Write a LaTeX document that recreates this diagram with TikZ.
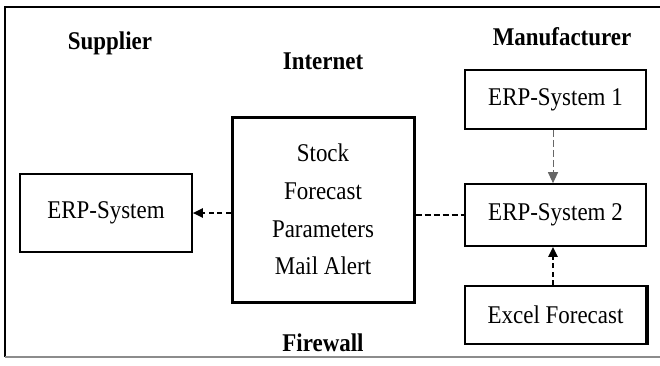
\documentclass[tikz,border=0pt]{standalone}
\usepackage{fontspec}
\setmainfont{Liberation Serif}[FakeStretch=0.9]
\usetikzlibrary{arrows.meta}
\tikzset{
  sysbox/.style={draw, line width=1.6pt, inner sep=0pt,
    font=\fontsize{25.5}{28}\selectfont},
  hubbox/.style={draw, line width=3pt, inner sep=0pt, align=center,
    font=\fontsize{25.5}{37.7}\selectfont},
  region/.style={font=\bfseries\fontsize{25.5}{28}\selectfont},
  tip/.style={-{Triangle[length=10pt,width=9pt]}},
  link/.style={line width=2pt, dash pattern=on 5pt off 3.5pt},
  thinlink/.style={line width=1pt, draw=black!60, dash pattern=on 7pt off 3pt},
}
\begin{document}
\begin{tikzpicture}[x=1pt,y=-1pt]
  \useasboundingbox (0,0) rectangle (660,365);

  % open frame
  \draw[line width=1.5pt] (660,7) -- (5,7) -- (5,357);
  \draw[line width=1.5pt, black!45] (5,357) -- (660,357);

  % region labels
  \node[region] (supl) at (110,43) {Supplier};
  \node[region] (inet) at (323,61) {Internet};
  \node[region] (manl) at (562,37) {Manufacturer};
  \node[region] (fwl)  at (323,343) {Firewall};

  % boxes
  \node[sysbox, minimum width=172pt, minimum height=78pt] (sup) at (106,213) {ERP-System};
  \node[hubbox, minimum width=182pt, minimum height=185pt] (hub) at (323,209.5)
    {Stock\\Forecast\\Parameters\\Mail Alert};
  \node[sysbox, minimum width=181pt, minimum height=59pt] (erp1) at (555.5,99.5) {ERP-System 1};
  \node[sysbox, minimum width=181pt, minimum height=62pt] (erp2) at (555.5,215) {ERP-System 2};
  \node[sysbox, minimum width=181pt, minimum height=58pt] (excel) at (555.5,315) {Excel Forecast};
  \draw[line width=3.5pt] ([xshift=0.5pt]excel.north east) -- ([xshift=0.5pt]excel.south east);

  % connectors
  \draw[link, tip] (hub.west |- sup.east) -- (sup.east);
  \draw[link, line width=2.6pt, dash pattern=on 6pt off 3pt] (hub.east |- erp2.west) -- (erp2.west);
  \draw[thinlink, -{Triangle[length=11pt,width=10pt]}]
    ([xshift=-2.5pt]erp1.south) -- ([xshift=-2.5pt]erp2.north);
  \draw[link, line width=2.4pt, tip] ([xshift=-2.5pt]excel.north) -- ([xshift=-2.5pt]erp2.south);
\end{tikzpicture}
\end{document}
